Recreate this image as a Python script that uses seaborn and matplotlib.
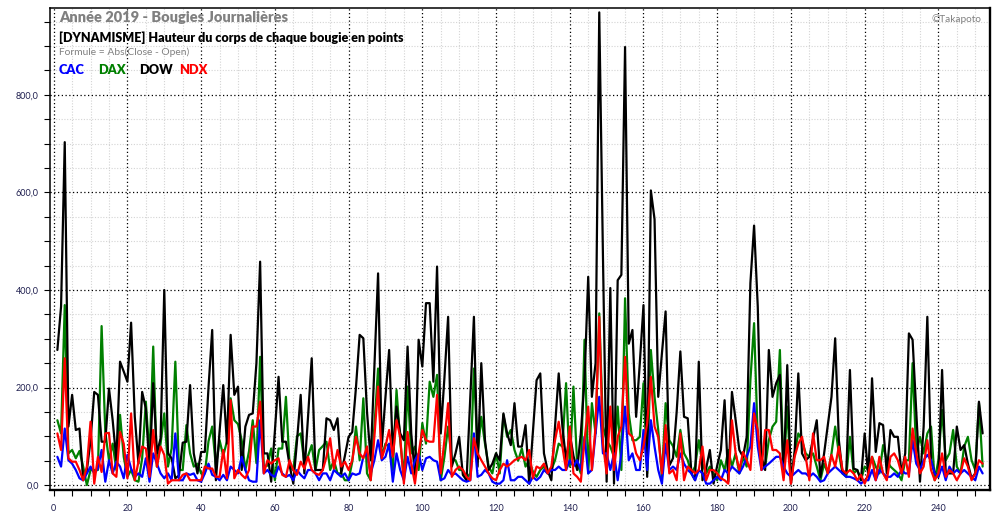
import matplotlib
matplotlib.use("Agg")
import matplotlib.pyplot as plt
import matplotlib.ticker as ticker
import numpy as np
import pandas as pd
import seaborn as sns

# Hauteur du corps de chaque bougie journaliere, annee 2019 (points)
dow = [277, 366, 703, 120, 185, 113, 116, 10, 30, 92,
       191, 185, 89, 89, 198, 133, 51, 253, 233, 212,
       333, 140, 44, 191, 157, 31, 209, 65, 96, 400,
       65, 55, 14, 20, 87, 89, 205, 65, 24, 68,
       68, 200, 318, 10, 110, 205, 85, 308, 185, 202,
       31, 120, 144, 147, 250, 458, 65, 65, 7, 110,
       222, 89, 89, 40, 3, 90, 185, 24, 140, 260,
       31, 31, 31, 137, 133, 113, 137, 24, 60, 99,
       109, 200, 308, 301, 150, 51, 240, 434, 79, 180,
       277, 65, 161, 106, 92, 284, 106, 21, 298, 243,
       373, 373, 212, 448, 106, 220, 345, 38, 65, 99,
       21, 10, 180, 345, 38, 250, 92, 31, 44, 65,
       51, 147, 106, 82, 168, 79, 79, 123, 3, 110,
       215, 229, 65, 30, 10, 120, 229, 120, 51, 106,
       60, 31, 106, 215, 427, 181, 250, 969, 470, 7,
       404, 3, 420, 431, 898, 290, 318, 140, 250, 369,
       17, 604, 545, 181, 270, 356, 40, 55, 150, 274,
       140, 137, 24, 10, 253, 10, 34, 72, 3, 40,
       72, 174, 7, 191, 133, 72, 58, 99, 414, 532,
       366, 58, 31, 277, 181, 209, 226, 17, 246, 3,
       68, 229, 65, 51, 58, 95, 133, 17, 65, 123,
       181, 301, 92, 24, 24, 236, 34, 31, 10, 106,
       17, 219, 68, 127, 123, 24, 113, 99, 99, 24,
       65, 311, 298, 150, 7, 120, 345, 51, 24, 17,
       236, 24, 24, 24, 120, 72, 82, 44, 14, 24,
       171, 106]

dax = [133, 106, 369, 65, 72, 55, 70, 38, 0, 31,
       31, 31, 326, 109, 51, 85, 31, 144, 58, 17,
       31, 10, 7, 55, 171, 58, 284, 38, 85, 147,
       38, 75, 253, 31, 31, 123, 65, 38, 44, 24,
       24, 90, 120, 38, 92, 60, 90, 178, 133, 125,
       92, 31, 70, 133, 45, 263, 38, 40, 75, 10,
       75, 75, 181, 40, 30, 100, 106, 45, 60, 82,
       30, 72, 80, 89, 31, 51, 24, 24, 10, 10,
       48, 120, 51, 178, 24, 10, 120, 239, 58, 85,
       79, 31, 195, 92, 14, 202, 65, 79, 31, 127,
       85, 212, 181, 226, 10, 58, 120, 51, 51, 31,
       31, 14, 24, 239, 65, 140, 85, 38, 24, 65,
       24, 144, 99, 113, 72, 50, 75, 38, 51, 27,
       17, 31, 38, 24, 31, 51, 85, 79, 209, 38,
       202, 44, 24, 298, 24, 168, 106, 352, 120, 92,
       79, 58, 161, 31, 383, 147, 92, 92, 99, 209,
       24, 277, 181, 113, 17, 168, 92, 80, 58, 113,
       65, 51, 24, 38, 92, 44, 24, 38, 24, 10,
       51, 31, 72, 38, 65, 24, 58, 38, 215, 332,
       92, 51, 38, 92, 120, 130, 277, 24, 161, 10,
       65, 106, 92, 65, 58, 65, 38, 10, 44, 24,
       65, 120, 65, 24, 17, 99, 24, 31, 10, 38,
       31, 58, 38, 24, 82, 51, 38, 31, 24, 10,
       51, 51, 250, 65, 99, 65, 106, 120, 10, 51,
       154, 51, 65, 113, 38, 24, 79, 99, 51, 31,
       168, 38]

ndx = [106, 72, 260, 55, 48, 48, 31, 10, 38, 130,
       3, 58, 27, 106, 107, 24, 17, 109, 85, 14,
       147, 10, 48, 79, 75, 17, 113, 38, 79, 62,
       3, 10, 10, 10, 21, 24, 10, 10, 10, 10,
       38, 34, 34, 17, 17, 72, 14, 174, 14, 31,
       21, 14, 31, 120, 120, 171, 24, 51, 44, 51,
       55, 21, 17, 51, 31, 21, 48, 34, 58, 31,
       24, 21, 31, 58, 96, 34, 72, 38, 48, 31,
       51, 99, 65, 55, 79, 10, 99, 202, 55, 79,
       113, 58, 133, 99, 3, 109, 44, 3, 65, 113,
       92, 89, 89, 185, 24, 92, 168, 17, 31, 38,
       31, 17, 10, 96, 65, 51, 38, 24, 14, 10,
       31, 44, 38, 44, 51, 55, 58, 51, 72, 14,
       38, 34, 44, 24, 38, 92, 130, 79, 31, 120,
       24, 17, 7, 92, 161, 31, 120, 345, 85, 24,
       161, 31, 99, 120, 263, 106, 99, 65, 51, 79,
       127, 222, 120, 99, 24, 123, 24, 31, 10, 106,
       10, 38, 31, 24, 31, 79, 10, 31, 31, 24,
       14, 10, 3, 133, 65, 31, 68, 51, 31, 147,
       113, 31, 113, 113, 72, 72, 65, 10, 92, 3,
       58, 85, 99, 58, 10, 106, 51, 51, 58, 24,
       62, 38, 79, 31, 24, 31, 24, 10, 21, 3,
       24, 58, 10, 58, 24, 10, 58, 65, 51, 24,
       58, 17, 116, 65, 24, 38, 92, 31, 10, 24,
       65, 17, 31, 24, 10, 24, 55, 38, 10, 24,
       51, 44]

cac = [58, 38, 116, 51, 44, 31, 14, 10, 24, 38,
       24, 34, 72, 7, 51, 24, 48, 38, 14, 62,
       34, 17, 24, 17, 55, 7, 65, 44, 24, 14,
       24, 10, 106, 10, 10, 24, 21, 24, 10, 7,
       24, 44, 21, 17, 10, 21, 10, 38, 31, 24,
       58, 31, 10, 7, 7, 133, 24, 31, 21, 17,
       38, 24, 17, 21, 10, 31, 21, 14, 31, 31,
       24, 10, 24, 24, 10, 31, 24, 17, 24, 10,
       24, 21, 24, 58, 65, 24, 51, 92, 51, 58,
       85, 7, 65, 31, 10, 58, 24, 51, 65, 31,
       55, 58, 51, 48, 10, 14, 31, 21, 24, 17,
       10, 7, 10, 106, 17, 21, 31, 24, 7, 3,
       3, 10, 51, 10, 10, 17, 17, 10, 3, 17,
       10, 17, 31, 24, 31, 31, 38, 31, 31, 51,
       38, 51, 31, 99, 24, 31, 106, 181, 65, 65,
       31, 65, 10, 65, 161, 51, 65, 31, 31, 113,
       31, 133, 79, 31, 3, 85, 31, 38, 31, 65,
       44, 31, 24, 10, 31, 24, 3, 3, 10, 17,
       10, 31, 24, 38, 31, 24, 38, 58, 79, 168,
       79, 31, 38, 44, 51, 58, 58, 38, 24, 17,
       24, 31, 24, 24, 17, 24, 17, 7, 10, 24,
       31, 38, 31, 24, 17, 17, 14, 10, 3, 10,
       10, 31, 10, 31, 24, 17, 17, 24, 17, 31,
       24, 24, 92, 44, 31, 51, 62, 51, 24, 17,
       38, 10, 38, 24, 31, 24, 31, 24, 17, 10,
       38, 24]

indices = ["CAC", "DAX", "DOW", "NDX"]
couleurs = {"CAC": "#0000ff", "DAX": "#008000", "DOW": "#000000", "NDX": "#ff0000"}
series = {"CAC": cac, "DAX": dax, "DOW": dow, "NDX": ndx}

# format long pour seaborn
frames = []
for nom, vals in series.items():
    frames.append(pd.DataFrame({"jour": np.arange(1, len(vals) + 1),
                                "corps": vals, "indice": nom}))
df = pd.concat(frames, ignore_index=True)

sns.set_style("white")
plt.rcParams['font.family'] = ['Lato', 'DejaVu Sans']

fig = plt.figure(figsize=(10, 5.2), dpi=100)
ax = fig.add_axes([0.050, 0.0577, 0.940, 0.9269])

sns.lineplot(data=df, x="jour", y="corps", hue="indice",
             hue_order=["DAX", "DOW", "CAC", "NDX"], palette=couleurs,
             linewidth=1.6, estimator=None, legend=False, ax=ax)

ax.set_xlim(-1, 254)
ax.set_ylim(-10, 978)
ax.set_xlabel("")
ax.set_ylabel("")

# ticks et grille
ax.xaxis.set_major_locator(ticker.MultipleLocator(20))
ax.xaxis.set_minor_locator(ticker.MultipleLocator(5))
ax.yaxis.set_major_locator(ticker.MultipleLocator(200))
ax.yaxis.set_minor_locator(ticker.MultipleLocator(50))
ax.yaxis.set_major_formatter(ticker.FuncFormatter(lambda v, p: f"{v:.1f}".replace(".", ",")))

ax.set_axisbelow(True)
ax.grid(which="minor", color="#d4d4d4", linestyle=(0, (1, 1.5)), linewidth=0.8)
ax.grid(which="major", color="#000000", linestyle=(0, (1, 2)), linewidth=0.9)

ax.tick_params(which="both", direction="out", length=4, width=0.8, color="#000000",
               labelsize=6.5, labelcolor="#202050", bottom=True, left=True)
ax.tick_params(axis="x", pad=6)
ax.tick_params(axis="y", pad=4)

for s in ["left", "top"]:
    ax.spines[s].set_linewidth(1.1)
for s in ["right", "bottom"]:
    ax.spines[s].set_linewidth(1.7)
for s in ax.spines.values():
    s.set_color("#000000")

# textes
def fx(px):
    return px / 1000.0

def fy(py):
    return 1 - py / 520.0

fig.text(fx(59), fy(18), "Année 2019 - Bougies Journalières", color="#808080",
         fontsize=10.5, fontweight="heavy", va="center", ha="left")
fig.text(fx(59), fy(38), "[DYNAMISME] Hauteur du corps de chaque bougie en points",
         color="#000000", fontsize=9.0, fontweight="heavy", va="center", ha="left")
fig.text(fx(59), fy(52), "Formule = Abs(Close - Open)", color="#808080",
         fontsize=7.35, va="center", ha="left")
for nom, px in zip(indices, [59, 98, 139, 179]):
    fig.text(fx(px), fy(70), nom, color=couleurs[nom], fontsize=9.2,
             fontweight="heavy", va="center", ha="left")
fig.text(fx(982), fy(19), "©Takapoto", color="#808080", fontsize=7.2,
         va="center", ha="right")

fig.savefig("out.png", dpi=100)
